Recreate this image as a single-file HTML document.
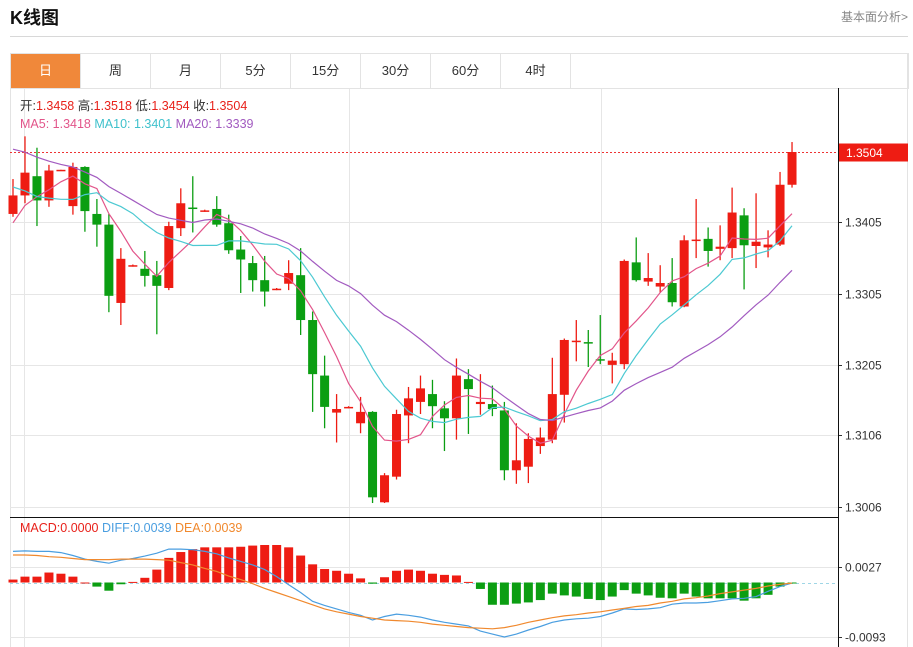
<!DOCTYPE html>
<html><head><meta charset="utf-8">
<style>
body{margin:0;background:#fff;font-family:"Liberation Sans","Noto Sans CJK SC",sans-serif;}
#wrap{position:relative;width:913px;height:647px;overflow:hidden;}
.title{position:absolute;left:10px;top:4px;font-size:18px;font-weight:bold;color:#111;}
.more{position:absolute;right:5px;top:8px;font-size:12px;color:#888;}
.hline{position:absolute;left:10px;top:36px;width:898px;height:1px;background:#d8d8d8;}
.tabs{position:absolute;left:10px;top:53px;width:897px;height:34px;border:1px solid #e3e3e3;border-bottom:1px solid #e3e3e3;}
.tab{position:absolute;top:0;width:69px;height:34px;line-height:34px;text-align:center;font-size:13px;color:#333;border-right:1px solid #e3e3e3;}
.tab.on{background:#f0883a;color:#fff;}
svg{position:absolute;left:0;top:0;}
</style></head><body>
<div id="wrap">
<div class="title">K线图</div>
<div class="more">基本面分析&gt;</div>
<div class="hline"></div>
<div class="tabs">
<div class="tab on" style="left:0">日</div>
<div class="tab" style="left:70px">周</div>
<div class="tab" style="left:140px">月</div>
<div class="tab" style="left:210px">5分</div>
<div class="tab" style="left:280px">15分</div>
<div class="tab" style="left:350px">30分</div>
<div class="tab" style="left:420px">60分</div>
<div class="tab" style="left:490px">4时</div>
</div>
<svg id="chart" width="913" height="647"></svg>
</div>
<script>
const opens=[1.3417,1.3443,1.3470,1.3436,1.3478,1.3428,1.3483,1.3417,1.3402,1.3292,1.3344,1.3340,1.3331,1.3313,1.3397,1.3426,1.3421,1.3424,1.3404,1.3367,1.3348,1.3324,1.3311,1.3319,1.3331,1.3268,1.3190,1.3138,1.3145,1.3123,1.3139,1.3012,1.3048,1.3134,1.3153,1.3164,1.3144,1.3130,1.3185,1.3150,1.3150,1.3141,1.3057,1.3062,1.3091,1.3100,1.3163,1.3238,1.3237,1.3213,1.3205,1.3206,1.3349,1.3322,1.3315,1.3320,1.3287,1.3380,1.3382,1.3368,1.3369,1.3415,1.3372,1.3370,1.3374,1.3458];
const closes=[1.3443,1.3475,1.3436,1.3478,1.3479,1.3483,1.3421,1.3402,1.3302,1.3354,1.3345,1.3330,1.3316,1.3400,1.3432,1.3425,1.3422,1.3402,1.3366,1.3353,1.3324,1.3308,1.3312,1.3334,1.3268,1.3192,1.3146,1.3143,1.3146,1.3139,1.3019,1.3050,1.3136,1.3158,1.3172,1.3147,1.3130,1.3190,1.3171,1.3153,1.3143,1.3057,1.3071,1.3101,1.3103,1.3164,1.3240,1.3239,1.3236,1.3212,1.3211,1.3351,1.3324,1.3327,1.3320,1.3293,1.3380,1.3381,1.3365,1.3371,1.3419,1.3373,1.3378,1.3374,1.3458,1.3504];
const highs=[1.3466,1.3526,1.3510,1.3486,1.3479,1.3489,1.3484,1.3438,1.3417,1.3369,1.3346,1.3365,1.3351,1.3406,1.3453,1.3470,1.3423,1.3442,1.3416,1.3386,1.3358,1.3358,1.3313,1.3352,1.3369,1.3280,1.3218,1.3164,1.3147,1.3160,1.3140,1.3053,1.3142,1.3174,1.3190,1.3184,1.3154,1.3214,1.3199,1.3192,1.3176,1.3153,1.3123,1.3109,1.3117,1.3215,1.3242,1.3268,1.3254,1.3275,1.3222,1.3353,1.3384,1.3362,1.3345,1.3355,1.3387,1.3438,1.3398,1.3401,1.3454,1.3425,1.3446,1.3394,1.3476,1.3518];
const lows=[1.3413,1.3432,1.3400,1.3427,1.3478,1.3416,1.3392,1.3371,1.3279,1.3261,1.3343,1.3315,1.3248,1.3310,1.3386,1.3391,1.3420,1.3399,1.3361,1.3306,1.3308,1.3287,1.3310,1.3310,1.3247,1.3139,1.3116,1.3096,1.3144,1.3109,1.3011,1.3011,1.3044,1.3095,1.3136,1.3116,1.3084,1.3100,1.3108,1.3135,1.3133,1.3043,1.3038,1.3039,1.3080,1.3095,1.3124,1.3210,1.3202,1.3206,1.3179,1.3199,1.3322,1.3316,1.3306,1.3287,1.3286,1.3355,1.3343,1.3352,1.3355,1.3311,1.3341,1.3356,1.3372,1.3454];
const priorCloses=[1.3560,1.3575,1.3590,1.3570,1.3555,1.3565,1.3550,1.3560,1.3545,1.3540,1.3530,1.3515,1.3500,1.3495,1.3485,1.3353,1.3375,1.3429,1.3423];
const macdHist=[0.0005,0.0010,0.0010,0.0017,0.0015,0.0010,0.0000,-0.0007,-0.0014,-0.0003,0.0001,0.0008,0.0022,0.0042,0.0052,0.0057,0.0060,0.0060,0.0060,0.0061,0.0063,0.0064,0.0064,0.0060,0.0046,0.0031,0.0023,0.0020,0.0015,0.0007,-0.0002,0.0009,0.0020,0.0022,0.0020,0.0015,0.0013,0.0012,0.0001,-0.0011,-0.0038,-0.0038,-0.0036,-0.0034,-0.0030,-0.0019,-0.0022,-0.0024,-0.0028,-0.0030,-0.0024,-0.0013,-0.0019,-0.0022,-0.0026,-0.0027,-0.0019,-0.0024,-0.0027,-0.0027,-0.0027,-0.0031,-0.0027,-0.0021,-0.0007,-0.0001];
const diffLine=[0.0053,0.0054,0.0053,0.0053,0.0051,0.0046,0.0040,0.0036,0.0033,0.0038,0.0041,0.0045,0.0050,0.0057,0.0057,0.0056,0.0053,0.0049,0.0042,0.0036,0.0030,0.0022,0.0010,-0.0004,-0.0017,-0.0032,-0.0039,-0.0045,-0.0051,-0.0056,-0.0064,-0.0058,-0.0054,-0.0056,-0.0059,-0.0064,-0.0068,-0.0071,-0.0074,-0.0083,-0.0088,-0.0093,-0.0088,-0.0081,-0.0075,-0.0068,-0.0064,-0.0062,-0.0061,-0.0058,-0.0052,-0.0045,-0.0046,-0.0045,-0.0043,-0.0037,-0.0035,-0.0035,-0.0034,-0.0031,-0.0028,-0.0027,-0.0024,-0.0015,-0.0007,-0.0001];
const deaLine=[0.0047,0.0047,0.0046,0.0044,0.0043,0.0041,0.0039,0.0039,0.0039,0.0040,0.0040,0.0040,0.0039,0.0038,0.0034,0.0030,0.0024,0.0019,0.0011,0.0005,-0.0002,-0.0010,-0.0017,-0.0024,-0.0031,-0.0038,-0.0045,-0.0050,-0.0054,-0.0058,-0.0061,-0.0064,-0.0065,-0.0066,-0.0068,-0.0071,-0.0073,-0.0075,-0.0077,-0.0078,-0.0079,-0.0077,-0.0073,-0.0068,-0.0064,-0.0060,-0.0057,-0.0055,-0.0052,-0.0050,-0.0047,-0.0044,-0.0041,-0.0039,-0.0035,-0.0032,-0.0028,-0.0026,-0.0023,-0.0019,-0.0016,-0.0013,-0.0010,-0.0006,-0.0003,-0.0001];
const priceTicks=[1.3405,1.3305,1.3205,1.3106,1.3006];
const priceTickLabels=["1.3405","1.3305","1.3205","1.3106","1.3006"];
const macdTicks=[0.0027,-0.0093];
const macdTickLabels=["0.0027","-0.0093"];
const lastPrice=1.3504;
const lastPriceLabel="1.3504";

const NS="http://www.w3.org/2000/svg";
const svg=document.getElementById('chart');
function mk(tag,attrs,parent){const e=document.createElementNS(NS,tag);for(const k in attrs)e.setAttribute(k,attrs[k]);(parent||svg).appendChild(e);return e;}
const L=10,R=838;
const xAt=i=>13+i*11.985;
const yP=p=>152+(lastPrice-p)*7120;
const yM=v=>582.5-v*5860;
const RED="#ee1c13",GREEN="#0b9e12";

// frame
let e;
e=mk('line',{x1:10.5,y1:53,x2:10.5,y2:647,stroke:'#e3e3e3'});


e=mk('line',{x1:907.5,y1:53,x2:907.5,y2:647,stroke:'#e3e3e3'});


// vertical grid
[24,349,601].forEach(x=>{e=mk('line',{x1:x+.5,y1:89,x2:x+.5,y2:647,stroke:'#e6e6e6'});

});
// price grid + labels
priceTicks.forEach((p,k)=>{const y=Math.round(yP(p))+.5;
e=mk('line',{x1:L,y1:y,x2:R,y2:y,stroke:'#e6e6e6'});


e=mk('line',{x1:R,y1:y,x2:R+4,y2:y,stroke:'#333'});


e=mk('text',{x:845,y:y+4,'font-size':12,fill:'#333'});e.textContent=priceTickLabels[k];

});
// macd grid
macdTicks.forEach((v,k)=>{const y=Math.round(yM(v))+.5;
e=mk('line',{x1:L,y1:y,x2:R,y2:y,stroke:'#e6e6e6'});


e=mk('line',{x1:R,y1:y,x2:R+4,y2:y,stroke:'#333'});


e=mk('text',{x:845,y:y+4,'font-size':12,fill:'#333'});e.textContent=macdTickLabels[k];

});
// zero line
e=mk('line',{x1:L,y1:Math.round(yM(0))+.5,x2:R,y2:Math.round(yM(0))+.5,stroke:'#9fd6e6','stroke-dasharray':'3,3'});



// last price line
const ly=Math.round(yP(lastPrice))+.5;
e=mk('line',{x1:L,y1:ly,x2:R,y2:ly,stroke:'#e33','stroke-dasharray':'2,2'});


e=mk('rect',{x:839,y:ly-9,width:69,height:18,fill:'#ee1c13'});


e=mk('text',{x:846,y:ly+4.5,'font-size':12,fill:'#fff'});e.textContent=lastPriceLabel;



// candles
closes.forEach((c,i)=>{const o=opens[i],x=xAt(i);const up=c>=o;const col=up?RED:GREEN;
const g=mk('g',{});


mk('line',{x1:x,y1:yP(highs[i]),x2:x,y2:yP(lows[i]),stroke:col,'stroke-width':1.3},g);
const t=yP(Math.max(o,c)),b=yP(Math.min(o,c));
mk('rect',{x:x-4.5,y:t,width:9,height:Math.max(b-t,1.5),fill:col},g);});

// moving averages
const all=priorCloses.concat(closes);
function ma(n){return closes.map((_,i)=>{const j=i+priorCloses.length;const s=all.slice(Math.max(0,j-n+1),j+1);return s.reduce((a,b)=>a+b,0)/s.length;});}
[[5,'#e2558a','ma5-line'],[10,'#4cc9d2','ma10-line'],[20,'#a25bc0','ma20-line']].forEach(([n,col,name])=>{
const pts=ma(n).map((v,i)=>xAt(i).toFixed(1)+','+yP(v).toFixed(1)).join(' ');
const pl=mk('polyline',{points:pts,fill:'none',stroke:col,'stroke-width':1.2});

});

// axes
e=mk('line',{x1:L,y1:517.5,x2:R,y2:517.5,stroke:'#111'});


e=mk('line',{x1:R+.5,y1:88,x2:R+.5,y2:647,stroke:'#111'});



// macd hist
macdHist.forEach((v,i)=>{const x=xAt(i);const y0=yM(0),y1=yM(v);
const r=mk('rect',{x:x-4.5,y:Math.min(y0,y1),width:9,height:Math.max(Math.abs(y1-y0),1),fill:v>=0?RED:GREEN});

});
[[diffLine,'#4a9ee0','diff-line'],[deaLine,'#f0892e','dea-line']].forEach(([arr,col,name])=>{
const pts=arr.map((v,i)=>xAt(i).toFixed(1)+','+yM(v).toFixed(1)).join(' ');
const pl=mk('polyline',{points:pts,fill:'none',stroke:col,'stroke-width':1.2});

});

// info text
function info(y,parts,name){const t=mk('text',{x:20,y:y,'font-size':12.5});


parts.forEach(([s,c])=>{const sp=mk('tspan',{fill:c},t);sp.textContent=s;});}
info(110,[['开:','#333'],['1.3458','#e8211a'],['  高:','#333'],['1.3518','#e8211a'],['  低:','#333'],['1.3454','#e8211a'],['  收:','#333'],['1.3504','#e8211a']],'ohlc-info');
info(128,[['MA5: 1.3418','#e2558a'],['   MA10: 1.3401','#3fc1cc'],['   MA20: 1.3339','#a25bc0']],'ma-info');
info(532,[['MACD:0.0000','#e8211a'],['   DIFF:0.0039','#4a9ee0'],['   DEA:0.0039','#f0892e']],'macd-info');
document.querySelectorAll('tspan').forEach(s=>s.setAttribute('xml:space','preserve'));
</script>
</body></html>
